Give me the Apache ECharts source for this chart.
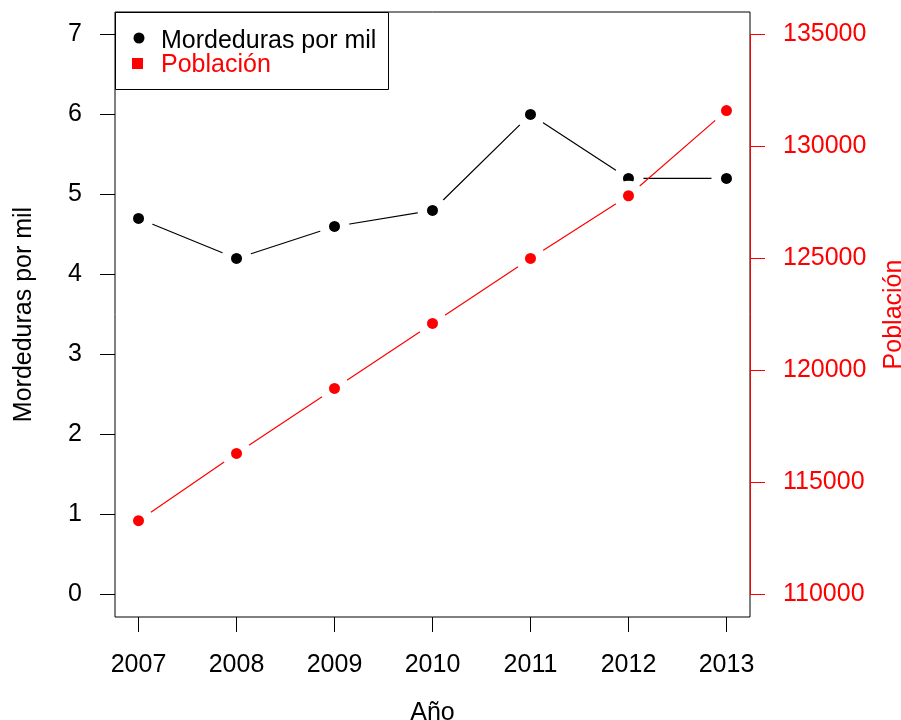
<!DOCTYPE html>
<html><head><meta charset="utf-8">
<script src="https://cdn.jsdelivr.net/npm/echarts@6/dist/echarts.min.js"></script>
<style>html,body{margin:0;padding:0;background:#fff}#c{width:901px;height:720px}</style>
</head><body><div id="c"></div>
<script>
const years = [2007, 2008, 2009, 2010, 2011, 2012, 2013];
const mordeduras = [4.7, 4.2, 4.6, 4.8, 6.0, 5.2, 5.2];
const poblacion = [113300, 116300, 119200, 122100, 125000, 127800, 131600];
const leftTicks = [0, 1, 2, 3, 4, 5, 6, 7];
const rightTicks = [110000, 115000, 120000, 125000, 130000, 135000];

const FONT = '"Liberation Sans", Arial, sans-serif';
const FS = 25;
const RED = '#FF0000';
const chart = echarts.init(document.getElementById('c'), null, {renderer: 'canvas'});
const pairs = ys => years.map((y, i) => [y, ys[i]]);

const option = {
  animation: false,
  backgroundColor: '#fff',
  grid: {left: 115, right: 151, top: 12, bottom: 103, show: true, borderColor: '#000', borderWidth: 1,
         backgroundColor: 'transparent', containLabel: false, outerBoundsMode: 'none'},
  xAxis: {
    type: 'value', min: 2006.76, max: 2013.24,
    splitLine: {show: false}, axisLine: {show: false, onZero: false},
    axisTick: {show: true, customValues: years, length: 15, lineStyle: {color: '#000', width: 1}},
    axisLabel: {customValues: years, margin: 36, fontSize: FS, color: '#000', fontFamily: FONT, formatter: v => String(v)},
    name: 'Año', nameLocation: 'middle', nameGap: 84,
    nameTextStyle: {fontSize: FS, color: '#000', fontFamily: FONT}
  },
  yAxis: [
    {
      type: 'value', position: 'left', min: -0.28, max: 7.28,
      splitLine: {show: false}, axisLine: {show: false, onZero: false},
      axisTick: {show: true, customValues: leftTicks, length: 15, lineStyle: {color: '#000', width: 1}},
      axisLabel: {customValues: leftTicks, margin: 33, fontSize: FS, color: '#000', fontFamily: FONT, formatter: v => String(v)},
      name: 'Mordeduras por mil', nameLocation: 'middle', nameGap: 78, nameRotate: 90,
      nameTextStyle: {fontSize: FS, color: '#000', fontFamily: FONT}
    },
    {
      type: 'value', position: 'right', min: 109000, max: 136000,
      splitLine: {show: false}, axisLine: {show: false, onZero: false},
      axisTick: {show: true, customValues: rightTicks, length: 15, lineStyle: {color: RED, width: 1}},
      axisLabel: {customValues: rightTicks, margin: 33, fontSize: FS, color: RED, fontFamily: FONT, formatter: v => String(v)},
      name: 'Población', nameLocation: 'middle', nameGap: 132, nameRotate: 90,
      nameTextStyle: {fontSize: FS, color: RED, fontFamily: FONT}
    }
  ],
  series: [
    {type: 'line', yAxisIndex: 0, data: pairs(mordeduras), symbol: 'none', lineStyle: {color: '#000', width: 1.2}, z: 1, silent: true},
    {type: 'scatter', yAxisIndex: 0, data: pairs(mordeduras), symbolSize: 30, itemStyle: {color: '#fff', opacity: 1}, z: 2, silent: true},
    {type: 'scatter', yAxisIndex: 0, data: pairs(mordeduras), symbolSize: 11, itemStyle: {color: '#000', opacity: 1}, z: 3, silent: true},
    {type: 'line', yAxisIndex: 1, data: pairs(poblacion), symbol: 'none', lineStyle: {color: RED, width: 1.2}, z: 4, silent: true},
    {type: 'scatter', yAxisIndex: 1, data: pairs(poblacion), symbolSize: 30, itemStyle: {color: '#fff', opacity: 1}, z: 5, silent: true},
    {type: 'scatter', yAxisIndex: 1, data: pairs(poblacion), symbolSize: 11, itemStyle: {color: RED, opacity: 1}, z: 6, silent: true}
  ]
};
chart.setOption(option);

// Right red axis line spanning the tick range, and the legend box
const xr = chart.convertToPixel({xAxisIndex: 0}, 2013.24);
const y0 = chart.convertToPixel({yAxisIndex: 1}, rightTicks[0]);
const y1 = chart.convertToPixel({yAxisIndex: 1}, rightTicks[rightTicks.length - 1]);
chart.setOption({
  graphic: [
    {type: 'line', shape: {x1: Math.round(xr) + 0.5, y1: y0, x2: Math.round(xr) + 0.5, y2: y1}, style: {stroke: RED, lineWidth: 1}, z: 50},
    {type: 'rect', shape: {x: 115.5, y: 12.5, width: 273, height: 77}, style: {fill: '#fff', stroke: '#000', lineWidth: 1}, z: 100},
    {type: 'circle', shape: {cx: 139, cy: 38, r: 5.5}, style: {fill: '#000'}, z: 101},
    {type: 'rect', shape: {x: 132, y: 58, width: 11, height: 11}, style: {fill: RED}, z: 101},
    {type: 'text', x: 161, y: 41, style: {text: 'Mordeduras por mil', font: FS + 'px ' + FONT, fill: '#000', verticalAlign: 'middle'}, z: 101},
    {type: 'text', x: 161, y: 65, style: {text: 'Población', font: FS + 'px ' + FONT, fill: RED, verticalAlign: 'middle'}, z: 101}
  ]
});
</script>
</body></html>
